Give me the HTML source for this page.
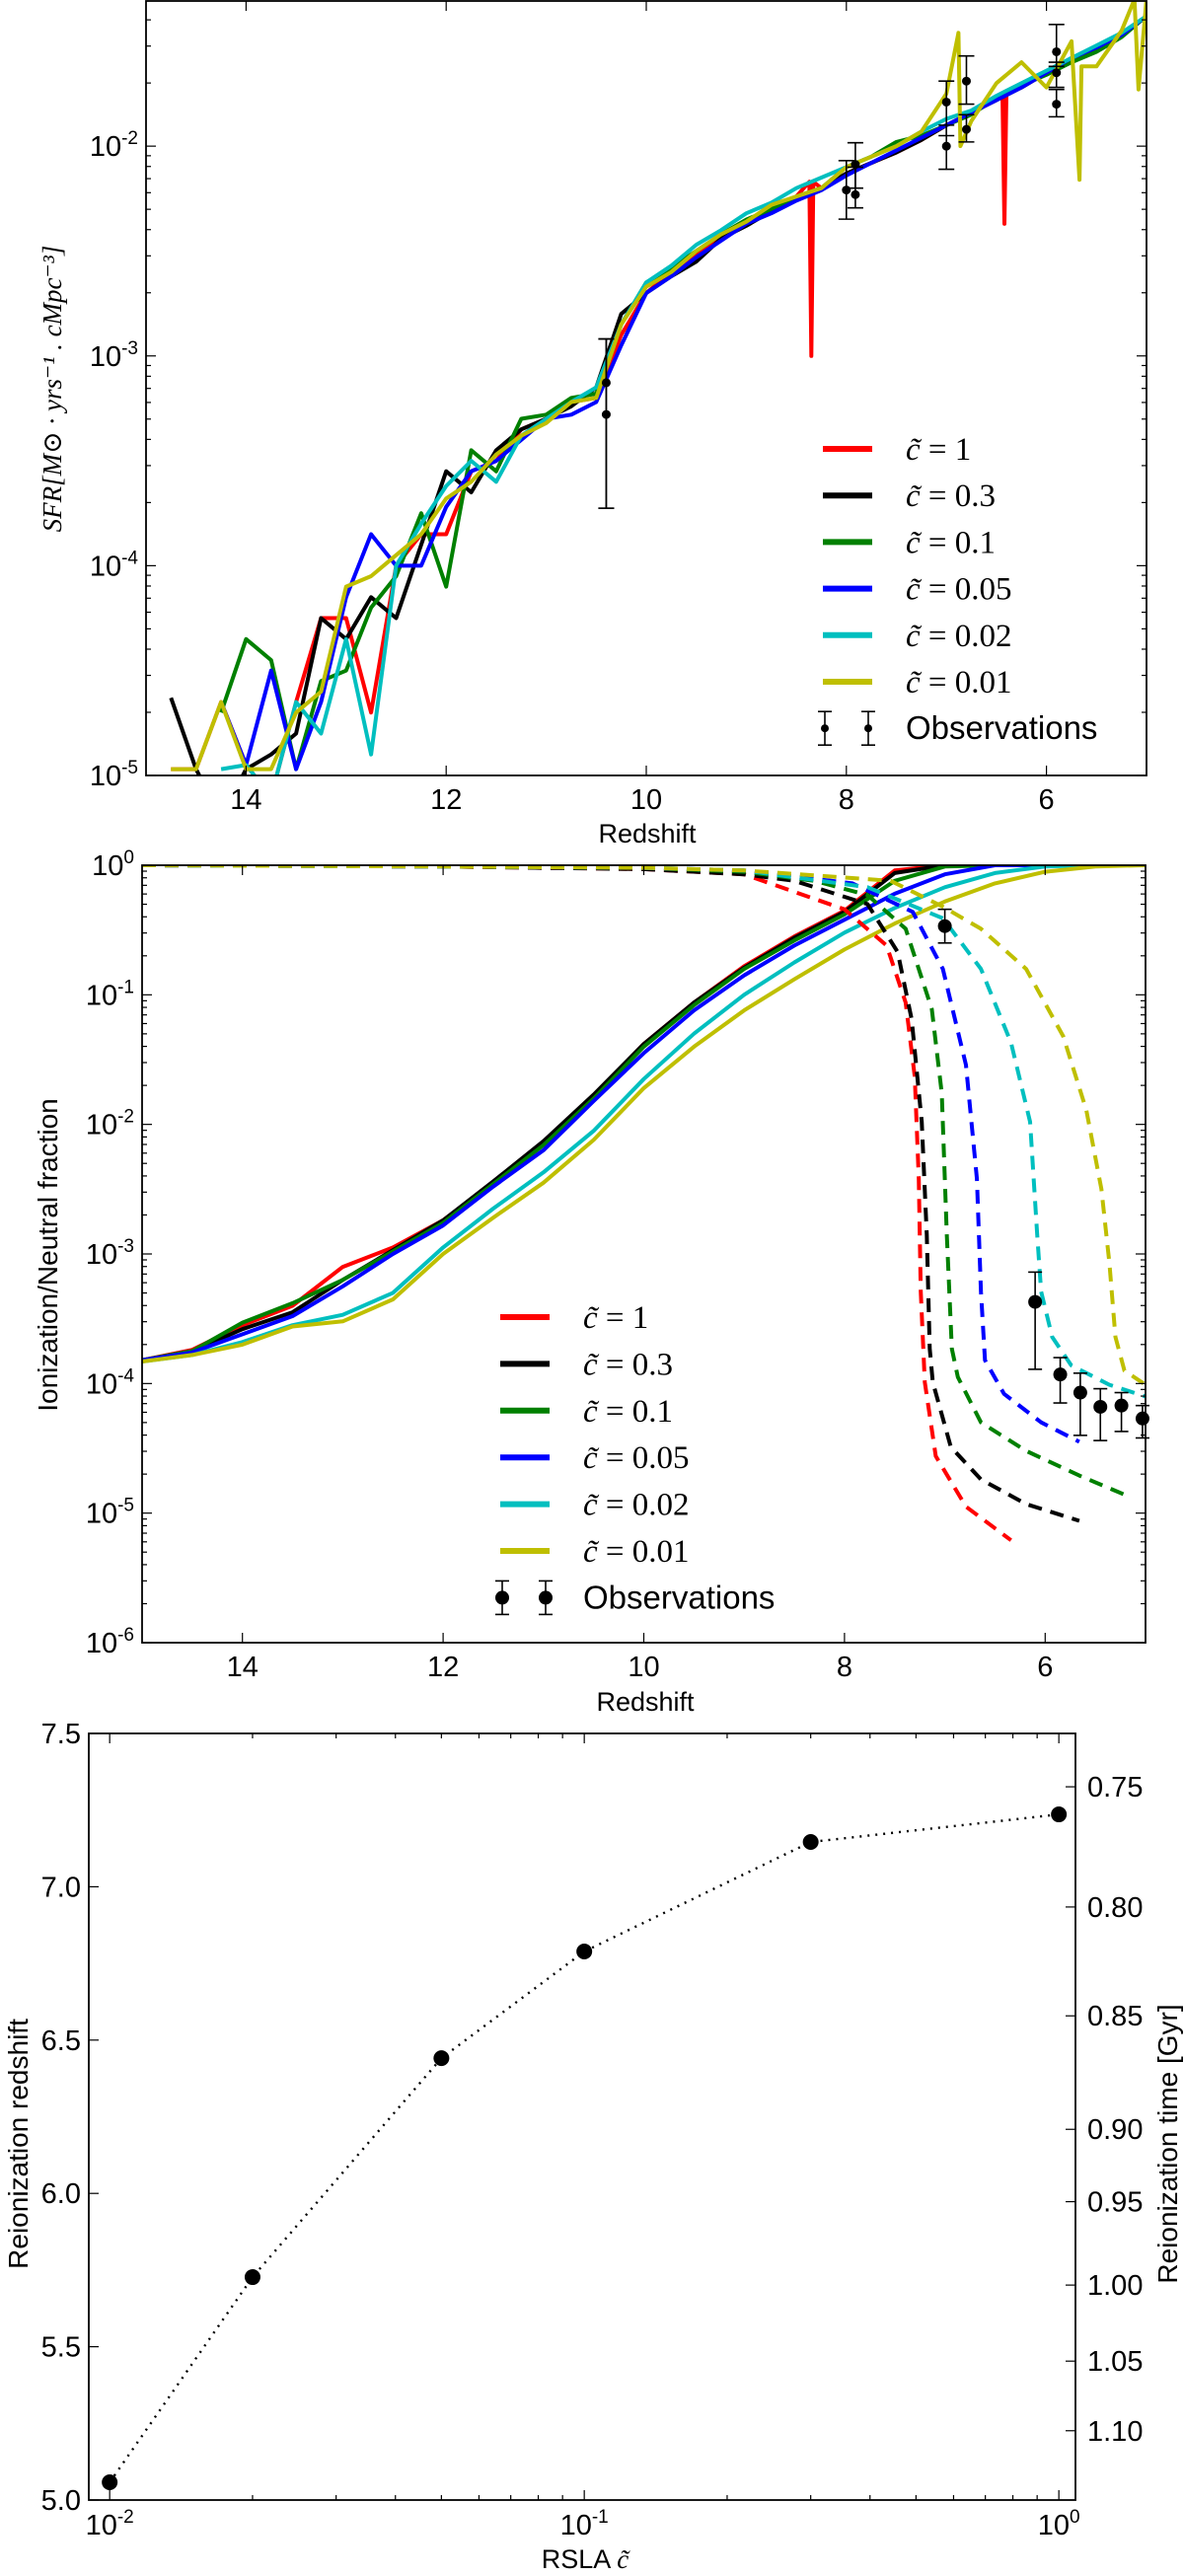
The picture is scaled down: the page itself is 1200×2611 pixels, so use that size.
<!DOCTYPE html>
<html><head><meta charset="utf-8">
<style>
html,body{margin:0;padding:0;background:#fff;}
svg{display:block;}
text{font-family:"Liberation Sans",sans-serif;fill:#000;}
.ser{font-family:"Liberation Serif","DejaVu Serif",serif;}
</style></head>
<body>
<svg id="fig" xmlns="http://www.w3.org/2000/svg" width="1200" height="2611" viewBox="0 0 1200 2611">
<rect width="1200" height="2611" fill="#fff"/>
<defs>
<clipPath id="c1"><rect x="148" y="1" width="1014" height="785"/></clipPath>
<clipPath id="c2"><rect x="144" y="877" width="1017" height="788"/></clipPath>
</defs>
</svg>
<script>
// ---------- Panel 1 data: log10 SFR ----------
const sfrZ = [14.75,14.5,14.25,14.0,13.75,13.5,13.25,13.0,12.75,12.5,12.25,12.0,11.75,11.5,11.25,11.0,10.75,10.5,10.25,10.0,9.75,9.5,9.25,9.0,8.75,8.5,8.25,8.0,7.75,7.5,7.25,7.0,6.75,6.5,6.25,6.0,5.75,5.5,5.25,5.0];
const sfrRed = [-4.97,-4.97,-4.65,-4.95,-5.1,-4.65,-4.25,-4.25,-4.7,-4.0,-3.85,-3.85,-3.55,-3.5,-3.35,-3.3,-3.22,-3.2,-2.9,-2.7,-2.6,-2.52,-2.42,-2.36,-2.3,-2.24,-2.2,-2.13,-2.08,-2.03,-1.97,-1.9,-1.84,-1.78,-1.72,-1.65,-1.58,-1.53,-1.47,-1.38];
const sfrBlack = [-4.63,-4.97,-5.2,-4.97,-4.9,-4.8,-4.25,-4.35,-4.15,-4.25,-3.9,-3.55,-3.65,-3.45,-3.35,-3.3,-3.24,-3.15,-2.8,-2.7,-2.62,-2.55,-2.44,-2.38,-2.31,-2.25,-2.2,-2.13,-2.08,-2.03,-1.97,-1.9,-1.84,-1.78,-1.72,-1.65,-1.58,-1.53,-1.47,-1.38];
const sfrGreen = [NaN,NaN,-4.7,-4.35,-4.45,-4.97,-4.55,-4.5,-4.2,-4.05,-3.75,-4.1,-3.45,-3.55,-3.3,-3.28,-3.2,-3.18,-2.85,-2.65,-2.58,-2.5,-2.42,-2.35,-2.3,-2.24,-2.2,-2.1,-2.05,-1.98,-1.95,-1.9,-1.85,-1.77,-1.71,-1.66,-1.6,-1.55,-1.48,-1.38];
const sfrBlue = [NaN,NaN,-4.65,-4.95,-4.5,-4.97,-4.65,-4.15,-3.85,-4.0,-4.0,-3.72,-3.55,-3.5,-3.4,-3.3,-3.28,-3.22,-2.95,-2.7,-2.62,-2.53,-2.45,-2.37,-2.32,-2.26,-2.21,-2.14,-2.08,-2.02,-1.96,-1.9,-1.84,-1.78,-1.72,-1.65,-1.58,-1.53,-1.47,-1.38];
const sfrCyan = [NaN,NaN,-4.97,-4.95,-5.1,-4.65,-4.8,-4.35,-4.9,-4.0,-3.8,-3.62,-3.5,-3.6,-3.38,-3.3,-3.22,-3.15,-2.85,-2.65,-2.57,-2.47,-2.4,-2.32,-2.27,-2.2,-2.15,-2.1,-2.05,-2.0,-1.93,-1.87,-1.83,-1.76,-1.7,-1.64,-1.58,-1.52,-1.46,-1.38];
const sfrYellow = [-4.97,-4.97,-4.65,-4.97,-4.97,-4.7,-4.6,-4.1,-4.05,-3.95,-3.85,-3.68,-3.6,-3.47,-3.38,-3.32,-3.22,-3.2,-2.85,-2.67,-2.6,-2.5,-2.42,-2.36,-2.28,-2.24,-2.2,-2.1,-2.05,-2.0,-1.93,-1.75,-1.88,-1.7,-1.6,-1.72,-1.5,-1.62,-1.45,-1.3];
const redDipZ = [8.37,8.35,8.33,6.44,6.42,6.40];
const redDipV = [-2.17,-3.0,-2.17,-1.75,-2.37,-1.75];
const yelSpikeZ = [6.88,6.86,5.67,5.65,5.12,5.08];
const yelSpikeV = [-1.46,-2.0,-2.16,-1.62,-1.3,-1.73];
const obs1Z = [10.40,10.40,8.00,7.91,7.91,7.00,7.00,6.80,6.80,5.90,5.90,5.90];
const obs1V = [-3.128,-3.279,-2.209,-2.087,-2.231,-1.79,-2.0,-1.69,-1.92,-1.55,-1.65,-1.80];
const obs1Lo = [-3.726,-3.726,-2.348,-2.20,-2.294,-1.95,-2.11,-1.80,-1.98,-1.62,-1.72,-1.86];
const obs1Hi = [-2.919,-2.919,-2.069,-1.984,-2.10,-1.69,-1.90,-1.57,-1.85,-1.42,-1.60,-1.73];

// ---------- Panel 2 data ----------
const ionZ = [15,14.5,14,13.5,13,12.5,12,11.5,11,10.5,10,9.5,9,8.5,8,7.5,7,6.5,6,5.5,5];
const ionRed = [-3.82,-3.74,-3.55,-3.4,-3.1,-2.95,-2.74,-2.45,-2.15,-1.78,-1.38,-1.06,-0.78,-0.55,-0.35,-0.04,0,0,0,0,0];
const ionBlack = [-3.82,-3.75,-3.58,-3.45,-3.2,-2.97,-2.74,-2.44,-2.13,-1.77,-1.38,-1.06,-0.79,-0.56,-0.36,-0.06,0,0,0,0,0];
const ionGreen = [-3.82,-3.75,-3.53,-3.38,-3.2,-2.98,-2.76,-2.46,-2.16,-1.8,-1.4,-1.08,-0.8,-0.58,-0.38,-0.12,-0.01,0,0,0,0];
const ionBlue = [-3.82,-3.76,-3.62,-3.48,-3.25,-3.0,-2.78,-2.48,-2.2,-1.82,-1.45,-1.12,-0.85,-0.62,-0.42,-0.22,-0.07,0,0,0,0];
const ionCyan = [-3.83,-3.78,-3.68,-3.55,-3.47,-3.3,-2.95,-2.65,-2.37,-2.05,-1.65,-1.3,-1.0,-0.75,-0.52,-0.33,-0.17,-0.06,-0.01,0,0];
const ionYellow = [-3.83,-3.78,-3.7,-3.56,-3.52,-3.35,-3.0,-2.72,-2.45,-2.12,-1.72,-1.4,-1.12,-0.88,-0.65,-0.45,-0.28,-0.14,-0.05,-0.01,0];
const neuRedZ = [15,12,10,9,8,7.58,7.39,7.30,7.26,7.24,7.20,7.09,6.79,6.34];
const neuRedV = [0,-0.01,-0.03,-0.07,-0.34,-0.62,-1.06,-1.63,-2.42,-3.29,-3.99,-4.56,-4.95,-5.21];
const neuBlackZ = [15,12,10,9,8.5,7.77,7.47,7.33,7.23,7.18,7.15,7.12,6.94,6.64,6.19,5.66];
const neuBlackV = [0,-0.01,-0.03,-0.07,-0.12,-0.3,-0.67,-1.19,-1.98,-2.85,-3.73,-3.99,-4.49,-4.74,-4.93,-5.06];
const neuGreenZ = [15,12,10,9,8.3,7.77,7.39,7.13,7.03,6.98,6.93,6.87,6.64,6.19,5.66,5.17];
const neuGreenV = [0,-0.01,-0.02,-0.05,-0.12,-0.23,-0.49,-1.11,-1.76,-2.85,-3.73,-3.95,-4.30,-4.52,-4.71,-4.87];
const neuBlueZ = [15,12,10,9,7.92,7.32,7.02,6.79,6.68,6.64,6.60,6.41,6.04,5.66];
const neuBlueV = [0,-0.01,-0.02,-0.04,-0.14,-0.36,-0.80,-1.54,-2.42,-3.29,-3.82,-4.08,-4.30,-4.45];
const neuCyanZ = [15,12,10,9,7.77,7.02,6.64,6.34,6.15,6.08,6.04,5.93,5.74,5.36,5.0];
const neuCyanV = [0,-0.01,-0.02,-0.04,-0.17,-0.41,-0.80,-1.37,-1.98,-2.85,-3.29,-3.64,-3.86,-4.01,-4.10];
const neuYellowZ = [15,12,10,9,7.54,7.02,6.64,6.19,5.82,5.59,5.44,5.36,5.30,5.21,5.0];
const neuYellowV = [0,-0.01,-0.02,-0.04,-0.12,-0.32,-0.49,-0.80,-1.32,-1.89,-2.50,-3.07,-3.64,-3.90,-4.01];
const obs2Z = [7.00,6.10,5.85,5.65,5.45,5.24,5.03];
const obs2V = [-0.47,-3.37,-3.93,-4.07,-4.18,-4.17,-4.27];
const obs2Lo = [-0.60,-3.89,-4.15,-4.40,-4.44,-4.37,-4.42];
const obs2Hi = [-0.34,-3.14,-3.80,-3.92,-4.04,-4.07,-4.17];

// ---------- Panel 3 data ----------
const rslaC = [0.01,0.02,0.05,0.1,0.3,1.0];
const reionZ = [5.058,5.727,6.441,6.789,7.146,7.236];
const timeTickLabels = ["0.75","0.80","0.85","0.90","0.95","1.00","1.05","1.10"];
const timeTickZ = [7.326,6.934,6.579,6.209,5.973,5.701,5.453,5.226];
const zTicks3 = [5.0,5.5,6.0,6.5,7.0,7.5];

const legendLabels = ["1","0.3","0.1","0.05","0.02","0.01"];
const colors = ["#ff0000","#000000","#008000","#0000ff","#00bfbf","#bfbf00"];

const NS = "http://www.w3.org/2000/svg";
const svg = document.getElementById("fig");
function mk(tag, attrs, parent){
  const e = document.createElementNS(NS, tag);
  for (const k in attrs) e.setAttribute(k, attrs[k]);
  (parent||svg).appendChild(e);
  return e;
}
function sx(x0,x1,d0,d1){return v => x0+(v-d0)/(d1-d0)*(x1-x0);}

const P1 = {x0:148,x1:1162,y0:1,y1:786};
const X1 = sx(P1.x0,P1.x1,15,5);
const Y1 = sx(P1.y1,P1.y0,-5,-1.308);
const P2 = {x0:144,x1:1161,y0:877,y1:1665};
const X2 = sx(P2.x0,P2.x1,15,5);
const Y2 = sx(P2.y1,P2.y0,-6,0);
const P3 = {x0:90,x1:1090,y0:1757,y1:2534};
const X3 = sx(P3.x0,P3.x1,-2.044,0.035);
const Y3 = sx(P3.y1,P3.y0,5,7.5);

function logTickLabel(g,x,y,exp,anchor){
  const t = mk("text",{x:x,y:y,"font-size":29,"text-anchor":anchor},g);
  
  
  t.appendChild(document.createTextNode("10"));
  const s = mk("tspan",{"font-size":19,dy:-12},t);
  s.textContent = exp;
  return t;
}
function panelFrame(P,name){
  const g = mk("g",{});
  
  
  return g;
}
function drawLogY(g,P,Y,dmin,dmax,labels){
  for(let d=Math.floor(dmin); d<=Math.ceil(dmax); d++){
    for(let m=1;m<10;m++){
      const v = d+Math.log10(m);
      if(v<dmin-1e-6||v>dmax+1e-6) continue;
      const y=Y(v), L = m===1?10:5;
      mk("line",{x1:P.x0,x2:P.x0+L,y1:y,y2:y,stroke:"#000","stroke-width":1.2},g);
      mk("line",{x1:P.x1,x2:P.x1-L,y1:y,y2:y,stroke:"#000","stroke-width":1.2},g);
      if(m===1 && labels) logTickLabel(g,P.x0-8,y+10,String(d),"end");
    }
  }
}
function drawLinX(g,P,X,ticks){
  ticks.forEach(v=>{
    const x=X(v);
    mk("line",{x1:x,x2:x,y1:P.y1,y2:P.y1-10,stroke:"#000","stroke-width":1.2},g);
    mk("line",{x1:x,x2:x,y1:P.y0,y2:P.y0+10,stroke:"#000","stroke-width":1.2},g);
    const t=mk("text",{x:x,y:P.y1+34,"font-size":29,"text-anchor":"middle"},g);
    
    
    t.textContent=String(v);
  });
}
function path(g,pts,color,w,dash,name,clip){
  let d="",pen=false;
  pts.forEach(p=>{
    if(isNaN(p[1])){pen=false;return;}
    d += (pen?"L":"M")+p[0].toFixed(1)+","+p[1].toFixed(1);
    pen=true;
  });
  const a={d:d,fill:"none",stroke:color,"stroke-width":w,"stroke-linejoin":"round"};
  if(dash) a["stroke-dasharray"]=dash;
  if(clip) a["clip-path"]="url(#"+clip+")";
  const p=mk("path",a,g);
  
  
  return p;
}
function errbar(g,x,y,ylo,yhi,r,cap,name){
  const grp=mk("g",{},g);
  
  
  mk("line",{x1:x,x2:x,y1:ylo,y2:yhi,stroke:"#000","stroke-width":1.6},grp);
  mk("line",{x1:x-cap,x2:x+cap,y1:ylo,y2:ylo,stroke:"#000","stroke-width":1.6},grp);
  mk("line",{x1:x-cap,x2:x+cap,y1:yhi,y2:yhi,stroke:"#000","stroke-width":1.6},grp);
  mk("circle",{cx:x,cy:y,r:r,fill:"#000"},grp);
}
function legend(g,xl,xt,ys,dy,r,cap,obsOffset){
  legendLabels.forEach((lab,i)=>{
    const y=ys+i*dy;
    const e=mk("g",{},g);
    
    
    mk("line",{x1:xl,x2:xl+50,y1:y,y2:y,stroke:colors[i],"stroke-width":6},e);
    const t=mk("text",{x:xt,y:y+11,"font-size":33,"class":"ser"},e);
    const c=mk("tspan",{"font-style":"italic"},t);
    c.textContent="c\u0303";
    const r2=mk("tspan",{},t);
    r2.textContent=" = "+lab;
  });
  const y=ys+6*dy;
  const e=mk("g",{},g);
  
  
  [xl+2,xl+obsOffset].forEach(x=>{
    mk("line",{x1:x,x2:x,y1:y-17,y2:y+17,stroke:"#000","stroke-width":1.6},e);
    mk("line",{x1:x-cap,x2:x+cap,y1:y-17,y2:y-17,stroke:"#000","stroke-width":1.6},e);
    mk("line",{x1:x-cap,x2:x+cap,y1:y+17,y2:y+17,stroke:"#000","stroke-width":1.6},e);
    mk("circle",{cx:x,cy:y,r:r,fill:"#000"},e);
  });
  const t=mk("text",{x:xt,y:y+11,"font-size":33},e);
  t.textContent="Observations";
}

// ---- Panel 1 ----
(function(){
  const g=panelFrame(P1,"sfr-panel");
  const series=[sfrRed,sfrBlack,sfrGreen,sfrBlue,sfrCyan,sfrYellow];
  const names=["sfr-line-c1","sfr-line-c0.3","sfr-line-c0.1","sfr-line-c0.05","sfr-line-c0.02","sfr-line-c0.01"];
  series.forEach((vals,i)=>{
    let pts=sfrZ.map((z,k)=>[z,vals[k]]);
    if(i===0) pts=pts.concat(redDipZ.map((z,k)=>[z,redDipV[k]]));
    if(i===5) pts=pts.concat(yelSpikeZ.map((z,k)=>[z,yelSpikeV[k]]));
    pts.sort((a,b)=>b[0]-a[0]);
    path(g,pts.map(p=>[X1(p[0]),isNaN(p[1])?NaN:Y1(Math.max(p[1],-5.25))]),colors[i],4,null,names[i],"c1");
  });
  obs1Z.forEach((z,k)=>errbar(g,X1(z),Y1(obs1V[k]),Y1(obs1Lo[k]),Y1(obs1Hi[k]),4.5,8,"sfr-observation"));
  mk("rect",{x:P1.x0,y:P1.y0,width:P1.x1-P1.x0,height:P1.y1-P1.y0,fill:"none",stroke:"#000","stroke-width":1.8},g);
  drawLogY(g,P1,Y1,-5,-1.308,true);
  drawLinX(g,P1,X1,[14,12,10,8,6]);
  const xl=mk("text",{x:656,y:854,"font-size":27,"text-anchor":"middle"},g);
  
  
  xl.textContent="Redshift";
  const yl=mk("text",{x:0,y:0,"font-size":27,"text-anchor":"middle","class":"ser","font-style":"italic",transform:"translate(62,394) rotate(-90)"},g);
  
  
  yl.textContent="SFR[M\u2299 \u00b7 yrs\u207b\u00b9 . cMpc\u207b\u00b3]";
  legend(g,834,918,455,47.2,4,7,46);
})();

// ---- Panel 2 ----
(function(){
  const g=panelFrame(P2,"ionization-panel");
  const ions=[ionRed,ionBlack,ionGreen,ionBlue,ionCyan,ionYellow];
  const neuZ=[neuRedZ,neuBlackZ,neuGreenZ,neuBlueZ,neuCyanZ,neuYellowZ];
  const neuV=[neuRedV,neuBlackV,neuGreenV,neuBlueV,neuCyanV,neuYellowV];
  ions.forEach((vals,i)=>{
    path(g,ionZ.map((z,k)=>[X2(z),Y2(vals[k])]),colors[i],4,null,"ionized-fraction-line","c2");
  });
  neuZ.forEach((zs,i)=>{
    path(g,zs.map((z,k)=>[X2(z),Y2(neuV[i][k])]),colors[i],4,"14,9","neutral-fraction-line","c2");
  });
  obs2Z.forEach((z,k)=>errbar(g,X2(z),Y2(obs2V[k]),Y2(obs2Lo[k]),Y2(obs2Hi[k]),7,7,"ionization-observation"));
  mk("rect",{x:P2.x0,y:P2.y0,width:P2.x1-P2.x0,height:P2.y1-P2.y0,fill:"none",stroke:"#000","stroke-width":1.8},g);
  drawLogY(g,P2,Y2,-6,0,true);
  drawLinX(g,P2,X2,[14,12,10,8,6]);
  const xl=mk("text",{x:654,y:1734,"font-size":27,"text-anchor":"middle"},g);
  
  
  xl.textContent="Redshift";
  const yl=mk("text",{x:0,y:0,"font-size":28,"text-anchor":"middle",transform:"translate(58,1272) rotate(-90)"},g);
  
  
  yl.textContent="Ionization/Neutral fraction";
  legend(g,507,591,1335,47.4,7,7,46);
})();

// ---- Panel 3 ----
(function(){
  const g=panelFrame(P3,"reionization-panel");
  const pts=rslaC.map((c,k)=>[X3(Math.log10(c)),Y3(reionZ[k])]);
  path(g,pts,"#000",2.4,"2,6","reionization-dotted-line",null);
  rslaC.forEach((c,k)=>{
    const m=mk("circle",{cx:X3(Math.log10(c)),cy:Y3(reionZ[k]),r:8,fill:"#000"},g);
    
    
  });
  mk("rect",{x:P3.x0,y:P3.y0,width:P3.x1-P3.x0,height:P3.y1-P3.y0,fill:"none",stroke:"#000","stroke-width":1.8},g);
  for(let d=-3; d<=0; d++){
    for(let m=1;m<10;m++){
      const v=d+Math.log10(m);
      if(v<-2.044||v>0.035) continue;
      const x=X3(v), L=m===1?10:5;
      mk("line",{x1:x,x2:x,y1:P3.y1,y2:P3.y1-L,stroke:"#000","stroke-width":1.2},g);
      mk("line",{x1:x,x2:x,y1:P3.y0,y2:P3.y0+L,stroke:"#000","stroke-width":1.2},g);
      if(m===1) logTickLabel(g,x,P3.y1+35,String(d),"middle");
    }
  }
  zTicks3.forEach(v=>{
    const y=Y3(v);
    mk("line",{x1:P3.x0,x2:P3.x0+10,y1:y,y2:y,stroke:"#000","stroke-width":1.2},g);
    const t=mk("text",{x:P3.x0-8,y:y+10,"font-size":29,"text-anchor":"end"},g);
    
    
    t.textContent=v.toFixed(1);
  });
  timeTickZ.forEach((z,k)=>{
    const y=Y3(z);
    mk("line",{x1:P3.x1,x2:P3.x1-10,y1:y,y2:y,stroke:"#000","stroke-width":1.2},g);
    const t=mk("text",{x:P3.x1+12,y:y+10,"font-size":29},g);
    
    
    t.textContent=timeTickLabels[k];
  });
  const xl=mk("text",{x:593,y:2603,"font-size":27,"text-anchor":"middle"},g);
  
  
  xl.appendChild(document.createTextNode("RSLA "));
  const c=mk("tspan",{"class":"ser","font-style":"italic"},xl);
  c.textContent="c\u0303";
  const yl=mk("text",{x:0,y:0,"font-size":28,"text-anchor":"middle",transform:"translate(28,2173) rotate(-90)"},g);
  
  
  yl.textContent="Reionization redshift";
  const yr=mk("text",{x:0,y:0,"font-size":28,"text-anchor":"middle",transform:"translate(1193,2173) rotate(-90)"},g);
  
  
  yr.textContent="Reionization time [Gyr]";
})();
</script>
</body></html>
